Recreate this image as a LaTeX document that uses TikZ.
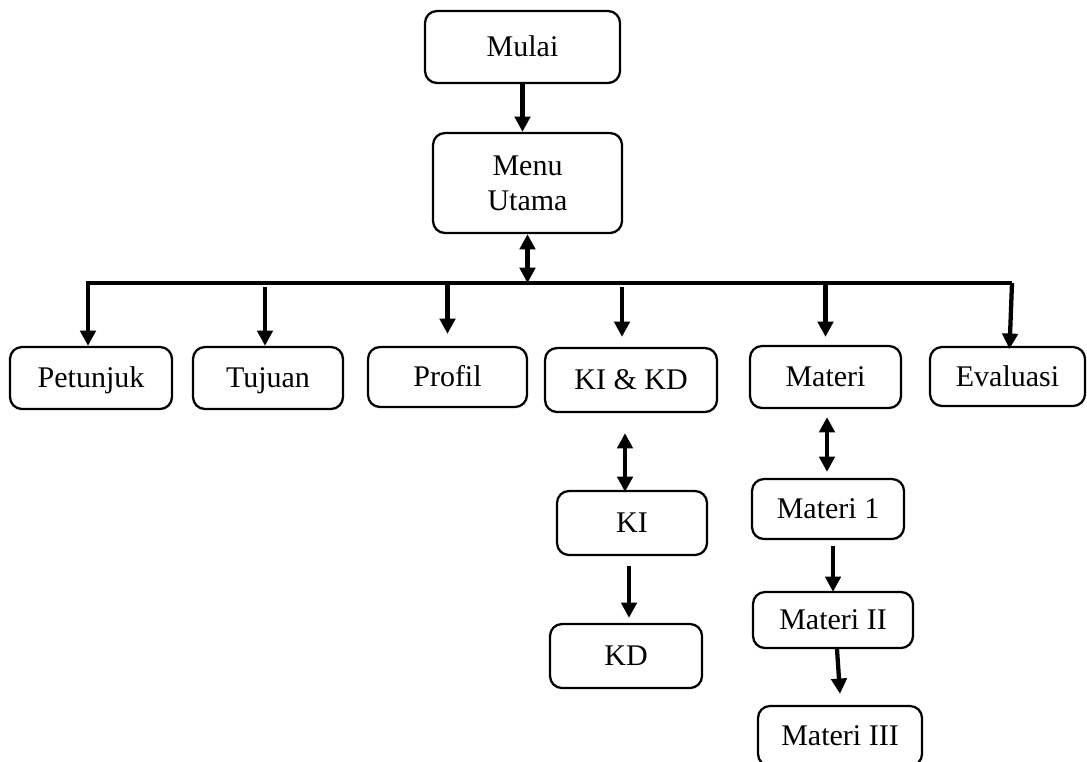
\documentclass[tikz,border=0pt]{standalone}
\usepackage{fontspec}
\setmainfont{Liberation Serif}
\usetikzlibrary{arrows.meta,calc}
\begin{document}
\begin{tikzpicture}[x=0.75pt,y=-0.75pt,
  box/.style={draw,rounded corners=9pt,line width=1.7pt,inner sep=0pt,
    align=center,text height=14.8pt,text depth=0pt,
    font=\fontsize{22.5}{26.5}\selectfont},
  arr/.style={line width=3.2pt,line join=miter,-{Triangle[length=11.5pt,width=11.5pt]}},
  darr/.style={line width=3.2pt,{Triangle[length=11.5pt,width=11.5pt]}-{Triangle[length=11.5pt,width=11.5pt]}}]
\useasboundingbox (0,0) rectangle (1087,761);

% main nodes
\node[box,minimum width=146.25pt,minimum height=54pt] (mulai) at (522.5,47) {Mulai};
\node[box,minimum width=141.75pt,minimum height=75pt,text height=,text depth=] (menu) at (527.5,183) {Menu\\Utama};

% menu items
\node[box,minimum width=121.5pt,minimum height=46.5pt] (petunjuk) at (91,378) {Petunjuk};
\node[box,minimum width=112.5pt,minimum height=46.5pt] (tujuan) at (268,378) {Tujuan};
\node[box,minimum width=119.25pt,minimum height=45pt] (profil) at (447.5,377) {Profil};
\node[box,minimum width=129pt,minimum height=48pt] (kikd) at (631,380) {KI \& KD};
\node[box,minimum width=113.25pt,minimum height=46.5pt] (materi) at (825.5,377) {Materi};
\node[box,minimum width=116.25pt,minimum height=44.25pt] (evaluasi) at (1007.5,376.5) {Evaluasi};

% sub items
\node[box,minimum width=112.5pt,minimum height=48pt] (ki) at (632,523) {KI};
\node[box,minimum width=114pt,minimum height=48pt] (kd) at (626,656) {KD};
\node[box,minimum width=114pt,minimum height=45pt] (materi1) at (828,509) {Materi 1};
\node[box,minimum width=120pt,minimum height=42pt] (materi2) at (833,620) {Materi II};
\node[box,minimum width=123pt,minimum height=45pt] (materi3) at (840,736) {Materi III};

% distribution bus
\coordinate (busL) at (88,283);
\coordinate (busR) at (1012,283);

% connectors
\draw[arr] (mulai.south) -- (mulai.south |- menu.north);
\draw[darr] (menu.south) -- (menu.south |- busL);
\draw[arr] (busR) -- (busL) -- (busL |- petunjuk.north);
\draw[arr] ($(tujuan.north)+(-3,-59)$) -- ($(tujuan.north)+(-3,0)$);
\draw[arr] (profil.north |- busL) -- ($(profil.north)+(0,-12)$);
\draw[arr] ($(kikd.north)+(-9,-60)$) -- ($(kikd.north)+(-9,-10)$);
\draw[arr] (materi.north |- busL) -- ($(materi.north)+(0,-8)$);
\draw[arr] (busR) -- ($(evaluasi.north)+(2,3)$);

\draw[darr] ($(kikd.south)+(-6,20)$) -- ($(ki.north)+(-7,2)$);
\draw[arr] ($(ki.south)+(-3,10)$) -- ($(kd.north)+(3,-5)$);
\draw[darr] ($(materi.south)+(1.5,8)$) -- ($(materi1.north)+(-1,-6)$);
\draw[arr] ($(materi1.south)+(5,6)$) -- ($(materi2.north)+(0,1)$);
\draw[arr] ($(materi2.south)+(4,0)$) -- ($(materi3.north)+(0,-11)$);
\end{tikzpicture}
\end{document}
